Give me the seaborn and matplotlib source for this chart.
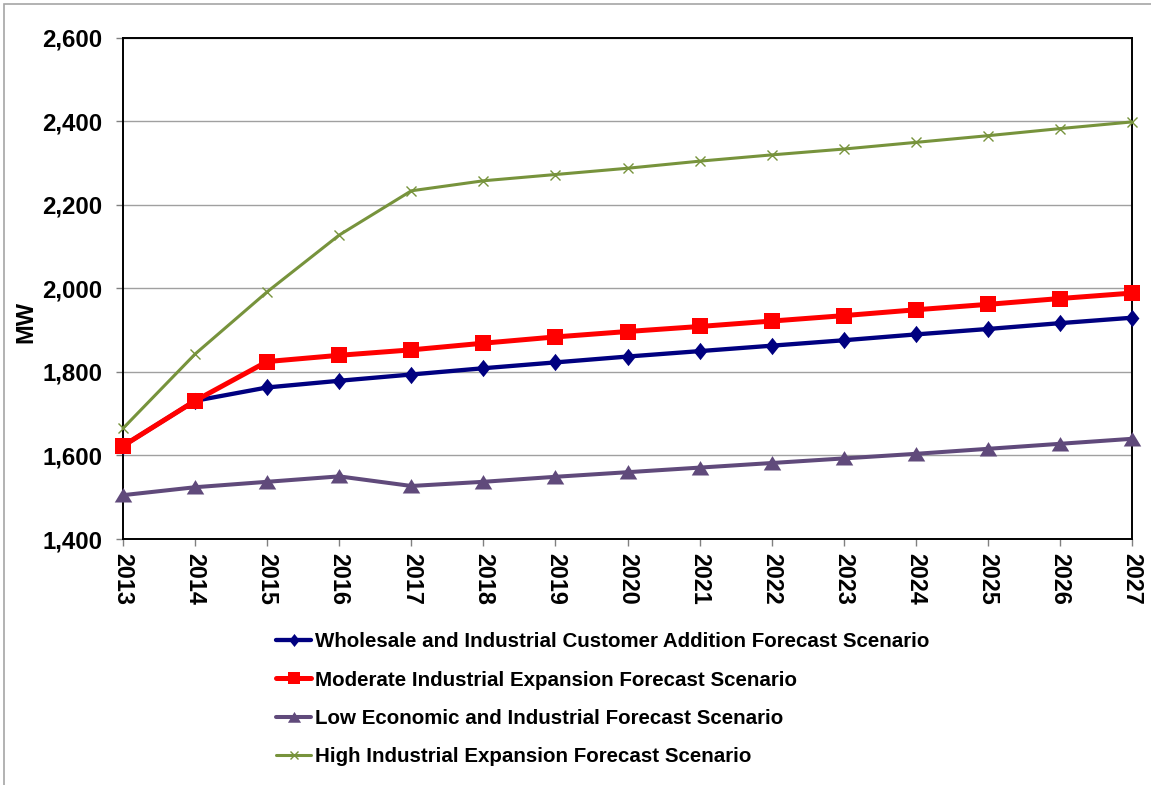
import matplotlib
matplotlib.use("Agg")
import matplotlib.pyplot as plt
import matplotlib.ticker as mticker
from matplotlib.patches import Rectangle
import numpy as np
import pandas as pd
import seaborn as sns

# Annual peak demand by forecast scenario (MW)
years = list(range(2013, 2028))
wholesale_industrial = [1623, 1731, 1763, 1779, 1794, 1809, 1823, 1837, 1850, 1863, 1876, 1890, 1903, 1917, 1930]
moderate_industrial = [1623, 1731, 1825, 1840, 1853, 1869, 1884, 1897, 1909, 1922, 1935, 1949, 1962, 1976, 1989]
low_economic = [1505, 1524, 1537, 1550, 1527, 1537, 1549, 1560, 1571, 1582, 1593, 1604, 1616, 1628, 1640]
high_industrial = [1665, 1843, 1992, 2128, 2234, 2258, 2273, 2288, 2305, 2320, 2334, 2350, 2366, 2383, 2399]

series_names = [
    "Wholesale and Industrial Customer Addition Forecast Scenario",
    "Moderate Industrial Expansion Forecast Scenario",
    "Low Economic and Industrial Forecast Scenario",
    "High Industrial Expansion Forecast Scenario",
]
series_values = [wholesale_industrial, moderate_industrial, low_economic, high_industrial]

y_ticks = [1400, 1600, 1800, 2000, 2200, 2400, 2600]

# Marker shapes: a slightly tall diamond and a squat triangle
diamond = [(0, 1), (0.8, 0), (0, -1), (-0.8, 0), (0, 1)]
triangle = [(-1, -0.8), (1, -0.8), (0, 0.85), (-1, -0.8)]

styles = [
    dict(color="#000080", marker=diamond, markersize=12.5, linewidth=3.1, mew=0),
    dict(color="#FF0000", marker="s", markersize=12.2, linewidth=3.6, mew=0),
    dict(color="#604A7B", marker=triangle, markersize=12.6, linewidth=2.9, mew=0),
    dict(color="#77933C", marker="x", markersize=7.2, linewidth=2.2, mew=1.0),
]

sns.set_theme(style="white")
plt.rcParams["font.family"] = ["Liberation Sans", "DejaVu Sans"]
plt.rcParams["font.weight"] = "bold"
plt.rcParams["text.color"] = "black"
plt.rcParams["axes.labelcolor"] = "black"
plt.rcParams["xtick.labelcolor"] = "black"
plt.rcParams["ytick.labelcolor"] = "black"

W, H = 1151, 785
fig = plt.figure(figsize=(W / 100, H / 100), dpi=100)
ax = fig.add_axes([123 / W, 1 - 539 / H, (1132 - 123) / W, (539 - 38) / H])

for name, vals, st in zip(series_names, series_values, styles):
    df = pd.DataFrame({"year": years, "MW": vals})
    sns.lineplot(data=df, x="year", y="MW", ax=ax, label=name,
                 color=st["color"], marker=st["marker"], markersize=st["markersize"],
                 linewidth=st["linewidth"], markeredgewidth=st["mew"],
                 markeredgecolor=st["color"], clip_on=False, zorder=3)

ax.set_xlim(years[0], years[-1])
ax.set_ylim(y_ticks[0], y_ticks[-1])
ax.set_xticks(years)
ax.set_xticklabels([str(y) for y in years], rotation=270, fontsize=16.8, fontweight="bold")
ax.set_yticks(y_ticks)
ax.yaxis.set_major_formatter(mticker.FuncFormatter(lambda v, p: f"{int(v):,}"))
for lbl in ax.get_yticklabels():
    lbl.set_fontsize(17.3)
    lbl.set_fontweight("bold")

ax.grid(axis="y", color="#a0a0a0", linewidth=1.0)
ax.grid(axis="x", visible=False)
ax.set_axisbelow(True)
for sp in ax.spines.values():
    sp.set_color("black")
    sp.set_linewidth(1.4)
    sp.set_visible(True)

ax.tick_params(axis="both", which="major", direction="out", length=5, width=1,
               color="#808080", bottom=True, left=True)
ax.tick_params(axis="y", pad=10)
ax.tick_params(axis="x", pad=5)
ax.set_xlabel("")
ax.set_ylabel("MW", fontsize=17, fontweight="bold")
ax.yaxis.set_label_coords((37 - 123) / (1132 - 123), (539 - 322) / (539 - 38))

ax.get_legend().remove()
handles, labels = ax.get_legend_handles_labels()
fig.legend(handles, labels, loc="upper left", bbox_to_anchor=(268 / W, 1 - 624 / H),
           frameon=False, handlelength=1.7, handletextpad=0.2,
           labelspacing=0.94, borderaxespad=0, markerscale=0.75,
           prop={"weight": "bold", "size": 14.8})

# Thin outer frame of the chart area
fig.patches.append(Rectangle((4 / W, -0.1), 1.2, 1.1 - 4 / H, transform=fig.transFigure,
                             fill=False, edgecolor="#a6a6a6", linewidth=1.2, clip_on=False))

fig.savefig("out.png", dpi=100)
